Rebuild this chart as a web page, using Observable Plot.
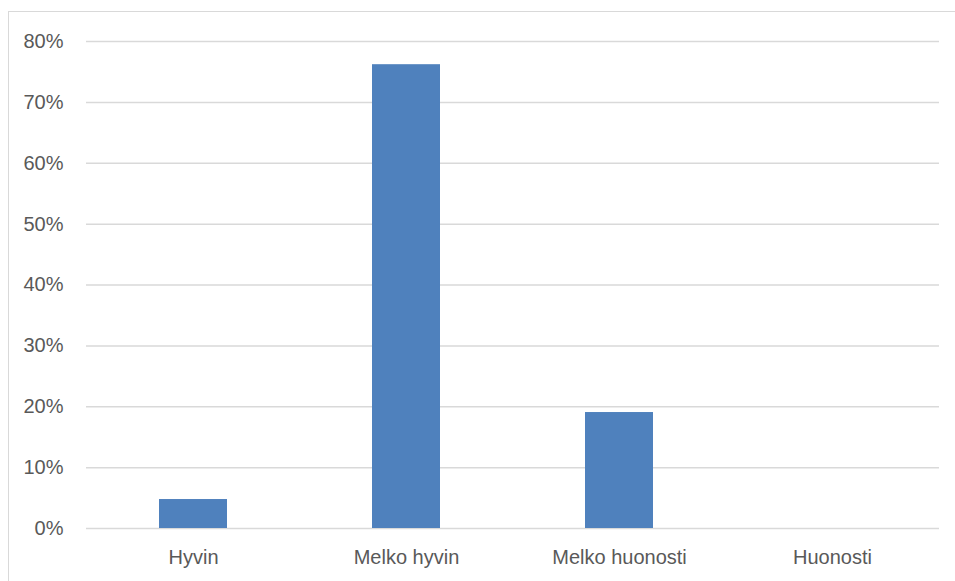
<!DOCTYPE html>
<html>
<head>
<meta charset="utf-8">
<script src="https://cdn.jsdelivr.net/npm/d3@7"></script>
<script src="https://cdn.jsdelivr.net/npm/@observablehq/plot@0.6"></script>
<style>
  html, body { margin: 0; padding: 0; background: #fff; }
  #wrap { position: relative; width: 955px; height: 581px; overflow: hidden; }
  #frame { position: absolute; left: 8px; top: 11px; width: 960px; height: 600px;
           border-left: 1.5px solid #d9d9d9; border-top: 1.5px solid #d9d9d9; box-sizing: border-box; }
  #chart { position: absolute; left: 0; top: 0; }
</style>
</head>
<body>
<div id="wrap"><div id="frame"></div><div id="chart"></div></div>
<script>
// Response categories and their shares
const categories = ["Hyvin", "Melko hyvin", "Melko huonosti", "Huonosti"];
const shares = [0.0476, 0.7619, 0.1905, 0];
const yTicks = [0, 0.1, 0.2, 0.3, 0.4, 0.5, 0.6, 0.7, 0.8];

const data = categories.map((c, i) => ({category: c, share: shares[i]}));

const chart = Plot.plot({
  width: 955,
  height: 581,
  marginLeft: 86,
  marginRight: 16,
  marginTop: 41,
  marginBottom: 53,
  style: {fontFamily: "'Liberation Sans', Arial, sans-serif", fontSize: "20px", color: "#595959", background: "transparent"},
  x: {domain: categories, paddingInner: 0.68, paddingOuter: 0.34, label: null},
  y: {domain: [0, 0.8], label: null},
  marks: [
    Plot.ruleY(yTicks, {stroke: "#d9d9d9", strokeWidth: 1.5}),
    Plot.barY(data, {x: "category", y: "share", fill: "#4f81bd"}),
    Plot.axisY({ticks: yTicks, tickFormat: d3.format(".0%"), tickSize: 0, tickPadding: 23, label: null}),
    Plot.axisX({tickSize: 0, tickPadding: 21, label: null})
  ]
});
document.getElementById("chart").appendChild(chart);
</script>
</body>
</html>
